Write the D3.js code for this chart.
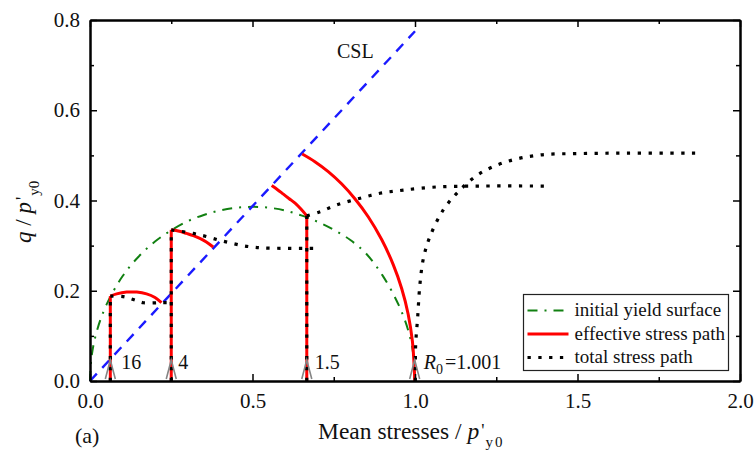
<!DOCTYPE html>
<html>
<head>
<meta charset="utf-8">
<script src="https://cdn.jsdelivr.net/npm/d3@7/dist/d3.min.js"></script>
<style>
  body { margin: 0; background: #fff; }
  svg { display: block; }
  svg text { font-family: "Liberation Serif", Tinos, "Times New Roman", Times, "DejaVu Serif", serif; }
</style>
</head>
<body>
<svg id="chart" width="755" height="459"></svg>
<script>
// initial yield surface
const yieldP = [0, 0.005, 0.02, 0.05, 0.1, 0.15, 0.2, 0.25, 0.3, 0.35, 0.4, 0.45, 0.5,
                0.55, 0.6, 0.65, 0.7, 0.75, 0.8, 0.85, 0.9, 0.95, 0.98, 0.995, 1.0];
const yieldQ = [0, 0.055, 0.108, 0.168, 0.232, 0.276, 0.309, 0.334, 0.354, 0.368, 0.378, 0.384, 0.386,
                0.384, 0.378, 0.367, 0.353, 0.335, 0.313, 0.282, 0.234, 0.168, 0.11, 0.058, 0];

// critical state line
const cslP = [0, 1.0];
const cslQ = [0, 0.775];

// starting points p = 1/R0 and the q where the elastic (vertical) part ends
const startP = [0.0625, 0.25, 0.667, 0.999];
const startQ = [0.188, 0.335, 0.366, 0];
const startLabels = ["16", "4", "1.5", "=1.001"];

// effective stress paths after yield
const eff16P = [0.0625, 0.082, 0.113, 0.144, 0.174, 0.2, 0.22];
const eff16Q = [0.188, 0.193, 0.197, 0.197, 0.193, 0.185, 0.1735];
const eff4P = [0.25, 0.275, 0.297, 0.318, 0.338, 0.358, 0.379];
const eff4Q = [0.335, 0.332, 0.327, 0.322, 0.316, 0.308, 0.297];
const eff15P = [0.667, 0.649, 0.631, 0.613, 0.595, 0.577, 0.559];
const eff15Q = [0.366, 0.381, 0.394, 0.404, 0.414, 0.424, 0.433];
const eff1001P = [0.999, 0.998, 0.992, 0.979, 0.959, 0.933, 0.897, 0.856, 0.815, 0.774, 0.733, 0.692, 0.653];
const eff1001Q = [0, 0.024, 0.088, 0.148, 0.205, 0.258, 0.314, 0.364, 0.404, 0.437, 0.464, 0.486, 0.503];

// total stress paths after yield
const tot16P = [0.0625, 0.1025, 0.123, 0.145, 0.164, 0.22, 0.256];
const tot16Q = [0.188, 0.187, 0.183, 0.178, 0.1735, 0.1735, 0.1735];
const tot4P = [0.25, 0.318, 0.359, 0.395, 0.426, 0.462, 0.492, 0.528, 0.6, 0.703];
const tot4Q = [0.335, 0.327, 0.32, 0.3125, 0.307, 0.301, 0.2975, 0.295, 0.294, 0.294];
const tot15P = [0.667, 0.708, 0.759, 0.831, 0.892, 0.964, 1.067, 1.2, 1.415];
const tot15Q = [0.366, 0.375, 0.39, 0.405, 0.416, 0.423, 0.43, 0.432, 0.432];
const tot1001P = [1.001, 1.002, 1.008, 1.015, 1.026, 1.046, 1.087, 1.138, 1.2, 1.282, 1.385, 1.508, 1.65, 1.862];
const tot1001Q = [0, 0.08, 0.139, 0.213, 0.272, 0.32, 0.379, 0.423, 0.46, 0.486, 0.501, 0.504, 0.505, 0.505];

// axis ticks
const xMajor = [0, 0.5, 1.0, 1.5, 2.0];
const xMinor = [0.25, 0.75, 1.25, 1.75];
const yMajor = [0, 0.2, 0.4, 0.6, 0.8];
const yMinor = [0.1, 0.3, 0.5, 0.7];

const legendLabels = ["initial yield surface", "effective stress path", "total stress path"];

const pts = (ps, qs) => ps.map((p, i) => [p, qs[i]]);

const svg = d3.select("#chart");
const margin = { left: 90, right: 740, top: 20, bottom: 381 };

const x = d3.scaleLinear().domain([0, 2]).range([margin.left, margin.right]);
const y = d3.scaleLinear().domain([0, 0.8]).range([margin.bottom, margin.top]);

const smooth = d3.line()
  .x((d) => x(d[0]))
  .y((d) => y(d[1]))
  .curve(d3.curveCatmullRom.alpha(0.5));
const straight = d3.line().x((d) => x(d[0])).y((d) => y(d[1]));

const styles = {
  yield: { stroke: "#118011", width: 2, dash: "10,7,2,7" },
  csl: { stroke: "#1a1aff", width: 2.4, dash: "10,8" },
  eff: { stroke: "#ff0000", width: 3, dash: null },
  tot: { stroke: "#000000", width: 3.2, dash: "3.3,7.5" },
};

const plot = svg.append("g");

function drawPath(d, gen, st) {
  plot.append("path")
    .attr("d", gen(d))
    .attr("fill", "none")
    .attr("stroke", st.stroke)
    .attr("stroke-width", st.width)
    .attr("stroke-dasharray", st.dash);
}

drawPath(pts(yieldP, yieldQ), smooth, styles.yield);
drawPath(pts(cslP, cslQ), straight, styles.csl);

// effective paths: vertical elastic part, then the curved part
startP.forEach((p, i) => {
  if (startQ[i] > 0) drawPath([[p, 0], [p, startQ[i]]], straight, styles.eff);
});
[[eff16P, eff16Q], [eff4P, eff4Q], [eff15P, eff15Q], [eff1001P, eff1001Q]]
  .forEach(([ps, qs]) => drawPath(pts(ps, qs), smooth, styles.eff));

// total paths on top
startP.forEach((p, i) => {
  if (startQ[i] > 0) drawPath([[p, 0], [p, startQ[i]]], straight, styles.tot);
});
[[tot16P, tot16Q], [tot4P, tot4Q], [tot15P, tot15Q], [tot1001P, tot1001Q]]
  .forEach(([ps, qs]) => drawPath(pts(ps, qs), smooth, styles.tot));

// arrows at the starting points
plot.selectAll(".arrow")
  .data(startP)
  .enter()
  .append("path")
  .attr("class", "arrow")
  .attr("d", (p) => `M${x(p) - 5},${y(0) - 2} L${x(p)},${y(0) - 21} L${x(p) + 5},${y(0) - 2}`)
  .attr("fill", "none")
  .attr("stroke", "#858585")
  .attr("stroke-width", 1.6);

// OCR labels
const labelDx = [11, 7, 8, 9];
startLabels.forEach((lab, i) => {
  const t = plot.append("text")
    .attr("x", x(startP[i]) + labelDx[i])
    .attr("y", 369)
    .attr("font-size", 20)
    .attr("fill", "#111");
  if (i === startLabels.length - 1) {
    t.append("tspan").attr("font-style", "italic").text("R");
    t.append("tspan").attr("font-size", 14).attr("dy", 5).text("0");
    t.append("tspan").attr("dy", -5).attr("dx", 2).text(lab);
  } else {
    t.text(lab);
  }
});

plot.append("text")
  .attr("x", 337).attr("y", 58)
  .attr("font-size", 20)
  .attr("fill", "#111")
  .text("CSL");

// axes
function styleAxis(g) {
  g.attr("font-family", null).attr("font-size", null);
  g.select(".domain").attr("stroke", "#000").attr("stroke-width", 2);
  g.selectAll(".tick line").attr("stroke", "#000").attr("stroke-width", 1.5);
  g.selectAll(".tick text").attr("font-size", 21).attr("fill", "#111");
}

const fmt = d3.format(".1f");

svg.append("g")
  .attr("transform", `translate(0,${margin.bottom})`)
  .call(d3.axisBottom(x).tickValues(xMajor).tickFormat(fmt).tickSizeInner(-7).tickSizeOuter(0).tickPadding(12))
  .call(styleAxis);
svg.append("g")
  .attr("transform", `translate(0,${margin.bottom})`)
  .call(d3.axisBottom(x).tickValues(xMinor).tickFormat("").tickSizeInner(-4).tickSizeOuter(0))
  .call(styleAxis);
svg.append("g")
  .attr("transform", `translate(0,${margin.top})`)
  .call(d3.axisTop(x).tickValues(xMajor).tickFormat("").tickSizeInner(-7).tickSizeOuter(0))
  .call(styleAxis);
svg.append("g")
  .attr("transform", `translate(0,${margin.top})`)
  .call(d3.axisTop(x).tickValues(xMinor).tickFormat("").tickSizeInner(-4).tickSizeOuter(0))
  .call(styleAxis);

svg.append("g")
  .attr("transform", `translate(${margin.left},0)`)
  .call(d3.axisLeft(y).tickValues(yMajor).tickFormat(fmt).tickSizeInner(-7).tickSizeOuter(0).tickPadding(10))
  .call(styleAxis);
svg.append("g")
  .attr("transform", `translate(${margin.left},0)`)
  .call(d3.axisLeft(y).tickValues(yMinor).tickFormat("").tickSizeInner(-4).tickSizeOuter(0))
  .call(styleAxis);
svg.append("g")
  .attr("transform", `translate(${margin.right},0)`)
  .call(d3.axisRight(y).tickValues(yMajor).tickFormat("").tickSizeInner(-7).tickSizeOuter(0))
  .call(styleAxis);
svg.append("g")
  .attr("transform", `translate(${margin.right},0)`)
  .call(d3.axisRight(y).tickValues(yMinor).tickFormat("").tickSizeInner(-4).tickSizeOuter(0))
  .call(styleAxis);

// axis titles
const xt = svg.append("text")
  .attr("x", 318).attr("y", 439)
  .attr("font-size", 23.5)
  .attr("fill", "#111");
xt.append("tspan").text("Mean stresses / ");
xt.append("tspan").attr("font-style", "italic").text("p");
xt.append("tspan").attr("font-size", 18).attr("dx", 2).attr("dy", -2).text("'");
xt.append("tspan").attr("font-size", 15).attr("letter-spacing", 2).attr("dx", 1).attr("dy", 9.5).text("y0");

const yt = svg.append("text")
  .attr("transform", "translate(31,243) rotate(-90)")
  .attr("font-size", 23)
  .attr("fill", "#111");
yt.append("tspan").attr("font-style", "italic").text("q");
yt.append("tspan").text(" / ");
yt.append("tspan").attr("font-style", "italic").text("p");
yt.append("tspan").attr("font-size", 18).attr("dx", 2).attr("dy", -2).text("'");
yt.append("tspan").attr("font-size", 15).attr("dx", 1).attr("dy", 9.5).text("y0");

svg.append("text")
  .attr("x", 75).attr("y", 443)
  .attr("font-size", 22)
  .attr("fill", "#111")
  .text("(a)");

// legend
const legend = svg.append("g").attr("transform", "translate(523.5,294.5)");
legend.append("rect")
  .attr("width", 205).attr("height", 76)
  .attr("fill", "#fff")
  .attr("stroke", "#222")
  .attr("stroke-width", 1.2);
const legendStyles = [styles.yield, styles.eff, styles.tot];
legendLabels.forEach((lab, i) => {
  const ly = 16 + i * 23.5;
  const st = legendStyles[i];
  legend.append("line")
    .attr("x1", 4).attr("x2", 45)
    .attr("y1", ly).attr("y2", ly)
    .attr("stroke", st.stroke)
    .attr("stroke-width", st.width)
    .attr("stroke-dasharray", st.dash);
  legend.append("text")
    .attr("x", 51).attr("y", ly + 5.5)
    .attr("font-size", 19)
    .attr("fill", "#111")
    .text(lab);
});
</script>
</body>
</html>
